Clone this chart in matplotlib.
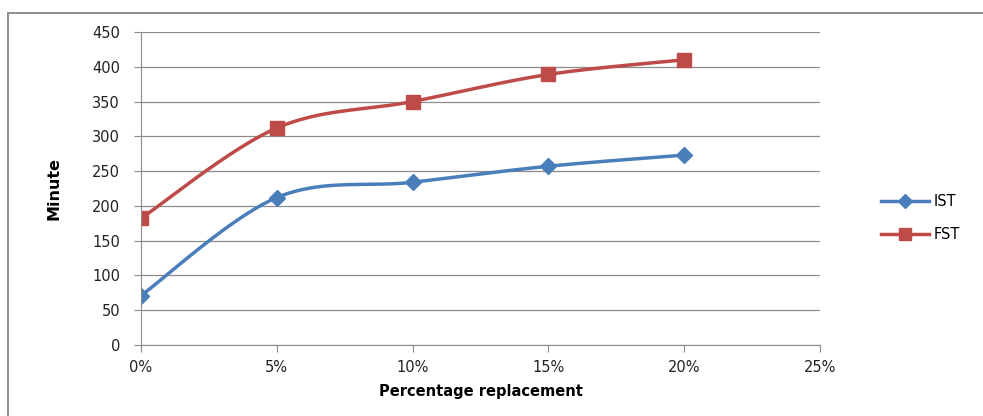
import numpy as np
import matplotlib
matplotlib.use("Agg")
import matplotlib.pyplot as plt
from matplotlib.patches import Rectangle

# data
pct = [0, 5, 10, 15, 20]
ist = [71, 212, 234, 257, 273]
fst = [182, 312, 350, 389, 410]
xticks = [0, 5, 10, 15, 20, 25]
yticks = list(range(0, 451, 50))


def smooth(x, y, n=40):
    # Catmull-Rom style smoothing, like Excel's smoothed lines
    x = np.asarray(x, float)
    y = np.asarray(y, float)
    px = np.concatenate([[x[0]], x, [x[-1]]])
    py = np.concatenate([[y[0]], y, [y[-1]]])
    xs, ys = [], []
    t = np.linspace(0, 1, n)
    for i in range(1, len(px) - 2):
        p0, p1, p2, p3 = [np.array([px[j], py[j]]) for j in range(i - 1, i + 3)]
        c1 = p1 + (p2 - p0) / 6
        c2 = p2 - (p3 - p1) / 6
        b = ((1 - t) ** 3)[:, None] * p1 + (3 * (1 - t) ** 2 * t)[:, None] * c1 \
            + (3 * (1 - t) * t ** 2)[:, None] * c2 + (t ** 3)[:, None] * p2
        xs.extend(b[:, 0])
        ys.extend(b[:, 1])
    return xs, ys


blue = "#4A7EBB"
red = "#BE4B48"

fig = plt.figure(figsize=(9.83, 4.16), dpi=100)
# outer chart border: only left and top edges are visible
fig.patches.append(Rectangle((8 / 983, -0.05), 1.0, 1 - 13 / 416 + 0.05,
                             transform=fig.transFigure, fill=False,
                             edgecolor="#8c8c8c", lw=1.4))
ax = fig.add_axes([141 / 983, 1 - 345 / 416, (820 - 141) / 983, (345 - 32) / 416])

sx, sy = smooth(pct, ist)
ax.plot(sx, sy, color=blue, lw=2.5)
ax.plot(pct, ist, ls="none", marker="D", ms=8, color=blue)
sx, sy = smooth(pct, fst)
ax.plot(sx, sy, color=red, lw=2.5)
ax.plot(pct, fst, ls="none", marker="s", ms=10, color=red)

ax.set_xlim(0, 25)
ax.set_ylim(0, 450)
ax.set_xticks(xticks)
ax.set_xticklabels([f"{v}%" for v in xticks])
ax.set_yticks(yticks)
ax.grid(axis="y", color="#8c8c8c", lw=0.9)
ax.set_axisbelow(True)
for s in ["top", "right"]:
    ax.spines[s].set_visible(False)
for s in ["left", "bottom"]:
    ax.spines[s].set_color("#8c8c8c")
ax.tick_params(colors="#8c8c8c", labelcolor="#222222", labelsize=10.5, length=5)
ax.tick_params(axis="y", pad=10)
ax.tick_params(axis="x", pad=6)
ax.set_xlabel("Percentage replacement", fontsize=10.5, fontweight="bold", labelpad=6)
ax.set_ylabel("Minute", fontsize=11.5, fontweight="bold", labelpad=22)

# legend
fig.legend(handles=[
    plt.Line2D([], [], color=blue, lw=2.5, marker="D", ms=7),
    plt.Line2D([], [], color=red, lw=2.5, marker="s", ms=9)],
    labels=["IST", "FST"], loc="center left", bbox_to_anchor=(868 / 983, 1 - 218 / 416),
    frameon=False, fontsize=10.5, handlelength=3.3, labelspacing=1.2, handletextpad=0.3)

fig.savefig("out.png", dpi=100)
